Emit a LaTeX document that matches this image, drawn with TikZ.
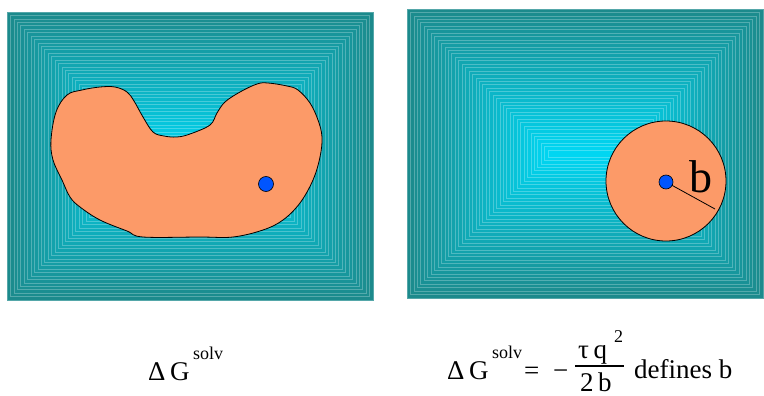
\documentclass[tikz,border=0pt]{standalone}
\usepackage{fontspec}
\setmainfont{Liberation Serif}
\definecolor{edgeC}{RGB}{28,138,140}
\definecolor{centC}{RGB}{0,214,242}
\definecolor{orangeC}{RGB}{252,154,104}
\definecolor{dotC}{RGB}{0,85,255}
\tikzset{
  txt/.style={inner sep=0pt, font=\fontsize{27}{30}\selectfont},
  sup/.style={inner sep=0pt, font=\fontsize{18}{20}\selectfont},
  blob/.style={fill=orangeC, draw=black, line width=0.8pt},
  dot/.style={circle, fill=dotC, draw=black, line width=0.6pt, minimum size=15pt, inner sep=0pt},
}
\newcommand{\gradbox}[4]{%
  % #1,#2 = top-left; #3,#4 = bottom-right
  \foreach \i in {0,...,41}{%
    \pgfmathsetmacro{\dd}{\i*(#4-#2)/2/42}%
    \pgfmathsetmacro{\pp}{100*\i/41}%
    \colorlet{cur}{centC!\pp!edgeC}%
    \filldraw[fill=cur, draw=cur!75!white, line width=0.6pt]
      ({#1+\dd},{#2+\dd}) rectangle ({#3-\dd},{#4-\dd});
  }%
}
\begin{document}
\begin{tikzpicture}[x=1pt,y=-1pt]
\useasboundingbox (0,0) rectangle (764,396);
\fill[white] (0,0) rectangle (764,396);
% left box
\gradbox{7}{12}{373}{300}
\draw[blob] plot[smooth cycle, tension=0.6] coordinates {
 (51,140) (56,112) (67,95) (82,90) (100,87) (115,87) (127,92) (134,101)
 (143,117) (153,132) (164,136) (177,137) (190,134) (210,125) (217,113)
 (225,102) (240,92) (257,84) (268,83) (287,86) (298,90) (310,103) (318,120)
 (322,137) (320,157) (313,180) (300,203) (283,220) (263,230) (233,237)
 (200,237) (143,237) (127,231) (100,220) (80,207) (70,197) (62,180) (53,160)};
\node[dot] (d1) at (266,184) {};
% right box
\gradbox{407}{9}{763}{298}
\node[circle, minimum size=120pt, inner sep=0pt, fill=orangeC, draw=black, line width=0.8pt] (c) at (666,181) {};
\coordinate (rend) at (715,209);
\draw[line width=0.8pt] (666,182) -- (rend);
\node[dot, minimum size=14pt] (d2) at (666,182) {};
\node[inner sep=0pt, anchor=base west, font=\fontsize{46}{50}\selectfont] (b) at (689,192) {b};
% labels
\node[txt, anchor=base west] (lg) at (148,380) {Δ\,G};
\node[sup, anchor=base west] (ls) at (193,359) {solv};
\node[txt, anchor=base west] (rg) at (447,379) {Δ\,G};
\node[sup, anchor=base west] (rs) at (492,358) {solv};
\node[txt, anchor=base west] (eq) at (524,379) {=};
\node[txt, anchor=base west] (mi) at (553,379) {−};
\node[txt, anchor=base west] (num) at (578,358) {τ\,q};
\node[sup, anchor=base west] (two) at (614,342) {2};
\coordinate (barL) at (575,366);
\coordinate (barR) at (624,366);
\draw[line width=1.1pt] (barL) -- (barR);
\node[txt, anchor=base west] (den) at (580,391) {2\,b};
\node[txt, anchor=base west] (def) at (634,378) {defines b};
\end{tikzpicture}
\end{document}
